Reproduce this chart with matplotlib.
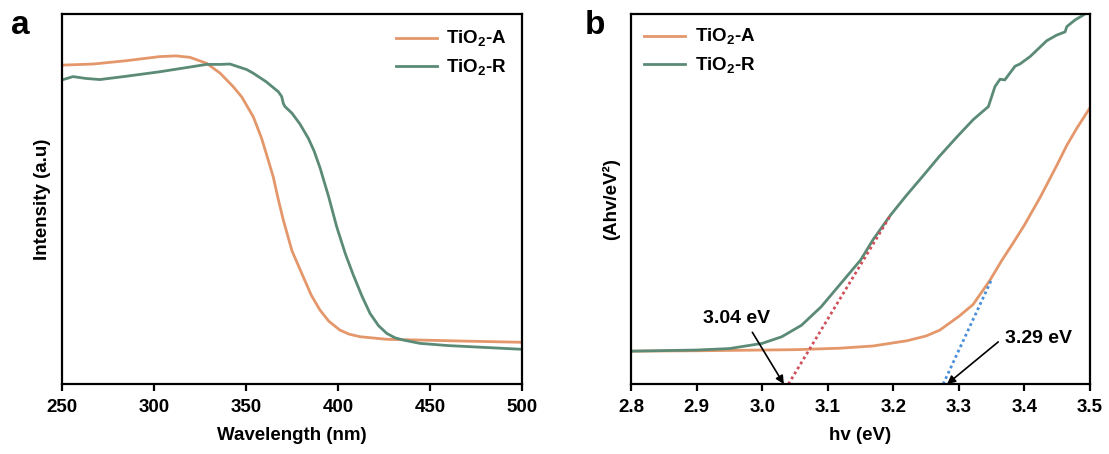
import numpy as np
import matplotlib
matplotlib.use('Agg')
import matplotlib.pyplot as plt

plt.rcParams['font.family'] = ['Liberation Sans', 'DejaVu Sans']
plt.rcParams['font.weight'] = 'bold'
plt.rcParams['mathtext.fontset'] = 'custom'
plt.rcParams['mathtext.bf'] = 'Liberation Sans:bold'
plt.rcParams['mathtext.rm'] = 'Liberation Sans:bold'

## panel a: UV-vis spectra
wl_A = [250, 267, 285, 303, 312, 319.6, 328.6, 336, 343, 347.7, 354, 358.5,
        361.5, 364.8, 367.5, 370.3, 375, 381.1, 385.5, 390.2, 395, 401, 406,
        412, 426.5, 444.6, 470, 500]
int_A = [0.862, 0.865, 0.874, 0.885, 0.887, 0.883, 0.867, 0.840, 0.804,
         0.776, 0.722, 0.664, 0.615, 0.560, 0.500, 0.443, 0.360, 0.290, 0.240,
         0.200, 0.170, 0.146, 0.135, 0.128, 0.121, 0.119, 0.116, 0.113]
wl_R = [250, 256, 263, 270.6, 285, 303, 321, 328.6, 335.9, 341.3, 350.4, 354,
        361, 367.6, 369.4, 370.3, 371.2, 375, 379.3, 383.9, 387, 390.2, 395,
        399.3, 404, 408.3, 413, 417.4, 422, 426.5, 431, 435.5, 444.6, 460,
        480, 500]
int_R = [0.822, 0.831, 0.826, 0.823, 0.832, 0.844, 0.858, 0.864, 0.864,
         0.865, 0.850, 0.840, 0.817, 0.790, 0.777, 0.758, 0.750, 0.732, 0.703,
         0.664, 0.630, 0.585, 0.505, 0.425, 0.352, 0.295, 0.238, 0.191, 0.158,
         0.137, 0.125, 0.119, 0.110, 0.104, 0.099, 0.094]

## panel b: Tauc plot
hv_A = [2.8, 2.9, 3.0, 3.05, 3.119, 3.169, 3.2205, 3.25, 3.271, 3.3, 3.3216,
        3.3475, 3.365, 3.3826, 3.40, 3.424, 3.449, 3.4645, 3.48, 3.5]
tauc_A = [0.089, 0.090, 0.092, 0.093, 0.097, 0.103, 0.117, 0.130, 0.146,
          0.183, 0.215, 0.281, 0.333, 0.381, 0.430, 0.505, 0.590, 0.645,
          0.692, 0.747]
hv_R = [2.8, 2.9, 2.95, 3.0, 3.03, 3.06, 3.09, 3.119, 3.15, 3.169, 3.195,
        3.22, 3.245, 3.27, 3.297, 3.322, 3.345, 3.355, 3.3628, 3.370, 3.3856,
        3.393, 3.4085, 3.434, 3.449, 3.462, 3.4645, 3.477, 3.4895, 3.5]
tauc_R = [0.089, 0.092, 0.096, 0.110, 0.128, 0.159, 0.209, 0.270, 0.335,
          0.390, 0.455, 0.510, 0.562, 0.615, 0.668, 0.715, 0.750, 0.804,
          0.824, 0.822, 0.859, 0.865, 0.885, 0.928, 0.943, 0.952, 0.966,
          0.984, 0.997, 1.01]
fit_R_x = [3.04, 3.195]
fit_R_y = [0.0, 0.454]
fit_A_x = [3.276, 3.35]
fit_A_y = [0.0, 0.283]
gap_R = '3.04 eV'
gap_A = '3.29 eV'

c_A = '#E4976A'
c_R = '#5B8B76'

fig = plt.figure(figsize=(11.09, 4.54), dpi=100)
ax1 = fig.add_axes([0.0559, 0.154, 0.4148, 0.815])
ax2 = fig.add_axes([0.569, 0.154, 0.4139, 0.815])

lab_A = r'TiO$_\mathbf{2}$-A'
lab_R = r'TiO$_\mathbf{2}$-R'

ax1.plot(wl_A, int_A, color=c_A, lw=2.0, label=lab_A)
ax1.plot(wl_R, int_R, color=c_R, lw=2.0, label=lab_R)
ax1.set_xlim(250, 500)
ax1.set_ylim(0, 1)
ax1.set_xticks([250, 300, 350, 400, 450, 500])
ax1.set_yticks([])
ax1.set_xlabel('Wavelength (nm)', fontsize=13.5, fontweight='bold', labelpad=8)
ax1.set_ylabel('Intensity (a.u)', fontsize=13.5, fontweight='bold', labelpad=8)
ax1.legend(loc='upper right', frameon=False, fontsize=13.5, handlelength=2.2,
           handletextpad=0.5, borderaxespad=0.4, labelspacing=0.45)

ax2.plot(hv_A, tauc_A, color=c_A, lw=2.0, label=lab_A)
ax2.plot(hv_R, tauc_R, color=c_R, lw=2.0, label=lab_R)
ax2.plot(fit_R_x, fit_R_y, color='#D0505A', lw=2.0, ls=(0, (1, 1.1)))
ax2.plot(fit_A_x, fit_A_y, color='#4A8FD8', lw=2.0, ls=(0, (1, 1.1)))
ax2.set_xlim(2.8, 3.5)
ax2.set_ylim(0, 1)
ax2.set_xticks([2.8, 2.9, 3.0, 3.1, 3.2, 3.3, 3.4, 3.5])
ax2.set_yticks([])
ax2.set_xlabel('hv (eV)', fontsize=13.5, fontweight='bold', labelpad=8)
ax2.set_ylabel('(Ahv/eV²)', fontsize=13.5, fontweight='bold', labelpad=8)
ax2.legend(loc='upper left', frameon=False, fontsize=13.5, handlelength=2.2,
           handletextpad=0.5, borderaxespad=0.3, labelspacing=0.45)

## arrows and gap labels
ax2.annotate('', xy=(3.033, 0.0), xytext=(2.985, 0.14),
             arrowprops=dict(arrowstyle='-|>', color='black', lw=1.2,
                             shrinkA=0, shrinkB=0, mutation_scale=12))
ax2.text(2.961, 0.178, gap_R, fontsize=14, fontweight='bold',
         ha='center', va='center')
ax2.annotate('', xy=(3.282, 0.0), xytext=(3.36, 0.114),
             arrowprops=dict(arrowstyle='-|>', color='black', lw=1.2,
                             shrinkA=0, shrinkB=0, mutation_scale=12))
ax2.text(3.422, 0.122, gap_A, fontsize=14, fontweight='bold',
         ha='center', va='center')

for ax in (ax1, ax2):
    for s in ax.spines.values():
        s.set_linewidth(1.6)
    ax.tick_params(axis='x', direction='out', length=5, width=1.6,
                   labelsize=13.5, pad=6)
    for t in ax.get_xticklabels():
        t.set_fontweight('bold')

fig.text(0.010, 0.925, 'a', fontsize=24, fontweight='bold')
fig.text(0.527, 0.925, 'b', fontsize=24, fontweight='bold')

fig.savefig('out.png', dpi=100)
